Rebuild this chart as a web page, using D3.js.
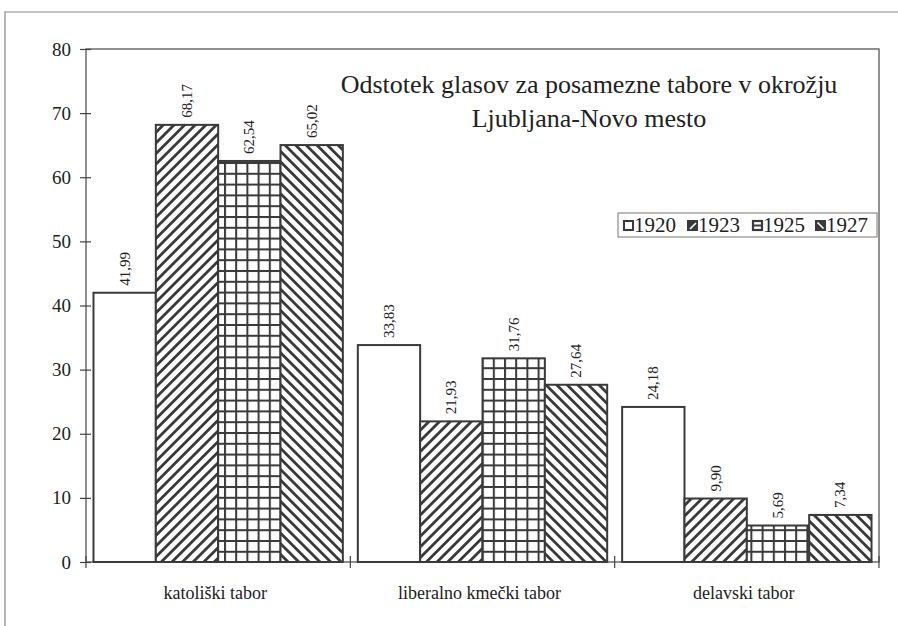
<!DOCTYPE html>
<html><head><meta charset="utf-8">
<script src="https://cdn.jsdelivr.net/npm/d3@7"></script>
<style>body{margin:0;background:#fff}svg{display:block}svg text{font-family:"Liberation Serif","DejaVu Serif",serif}</style>
</head><body>
<svg id="c" width="898" height="626"></svg>
<script>
const categories = ["katoliški tabor", "liberalno kmečki tabor", "delavski tabor"];
const years = ["1920", "1923", "1925", "1927"];
const v1920 = [41.99, 33.83, 24.18];
const v1923 = [68.17, 21.93, 9.90];
const v1925 = [62.54, 31.76, 5.69];
const v1927 = [65.02, 27.64, 7.34];
const yTicks = [0, 10, 20, 30, 40, 50, 60, 70, 80];
const titleLines = ["Odstotek glasov za posamezne tabore v okrožju", "Ljubljana-Novo mesto"];

const series = [v1920, v1923, v1925, v1927];
const svg = d3.select("#c");
const ink = "#3a3a3a";

// patterns
const defs = svg.append("defs");
function stripe(id, dir) {
  const p = defs.append("pattern").attr("id", id).attr("patternUnits", "userSpaceOnUse")
    .attr("width", 7.5).attr("height", 7.5)
    .attr("patternTransform", `rotate(${dir})`);
  p.append("rect").attr("width", 7.5).attr("height", 7.5).attr("fill", "#fff");
  p.append("rect").attr("x", 0).attr("y", 0).attr("width", 2.8).attr("height", 7.5).attr("fill", ink);
}
stripe("p1923", 45);
stripe("p1927", -45);
const g = defs.append("pattern").attr("id", "p1925").attr("patternUnits", "userSpaceOnUse")
  .attr("width", 11.2).attr("height", 10.8);
g.append("rect").attr("width", 11.2).attr("height", 10.8).attr("fill", "#fff");
g.append("rect").attr("x", 0).attr("y", 0).attr("width", 2).attr("height", 10.8).attr("fill", ink);
g.append("rect").attr("x", 0).attr("y", 0).attr("width", 11.2).attr("height", 2).attr("fill", ink);
const fills = ["#fff", "url(#p1923)", "url(#p1925)", "url(#p1927)"];

// outer frame
svg.append("path").attr("d", "M5,626 L5,12 L898,12").attr("fill", "none").attr("stroke", "#8a8a8a").attr("stroke-width", 1.2);

const L = 86, R = 879, T = 49, B = 562;
const y = d3.scaleLinear().domain([0, 80]).range([B, T]);
const x0 = d3.scaleBand().domain(categories).range([L, R]).padding(0);
const x1 = d3.scaleBand().domain(years).range([0, x0.bandwidth()]).paddingInner(0).paddingOuter(0.12);

// plot frame
svg.append("rect").attr("x", L).attr("y", T).attr("width", R - L).attr("height", B - T)
  .attr("fill", "none").attr("stroke", "#555").attr("stroke-width", 1.3);

// y axis
const ya = svg.append("g").attr("transform", `translate(${L},0)`)
  .call(d3.axisLeft(y).tickValues(yTicks).tickSize(6).tickPadding(8).tickFormat(d3.format("d")));
ya.select(".domain").remove();
ya.attr("font-family", null).attr("font-size", null);
ya.selectAll(".tick line").attr("x2", -6).attr("x1", 5).attr("stroke", "#444").attr("stroke-width", 1.2);
ya.selectAll(".tick text").attr("font-size", 19).attr("fill", "#222").attr("x", -15);

// bars
categories.forEach((c, ci) => {
  years.forEach((yr, si) => {
    const val = series[si][ci];
    const bx = x0(c) + x1(yr);
    svg.append("rect").attr("x", bx).attr("y", y(val)).attr("width", x1.bandwidth()).attr("height", B - y(val))
      .attr("fill", fills[si]).attr("stroke", ink).attr("stroke-width", 2);
    const cx = bx + x1.bandwidth() / 2;
    svg.append("text").attr("transform", `translate(${cx + 5},${y(val) - 7}) rotate(-90)`)
      .attr("font-size", 15).attr("fill", "#222")
      .text(d3.format(".2f")(val).replace(".", ","));
  });
});

// x axis ticks & labels
const xa = svg.append("g").attr("transform", `translate(0,${B})`);
const bounds = categories.map(c => x0(c)).concat([R]);
bounds.forEach(b => xa.append("line").attr("x1", b).attr("x2", b).attr("y1", -6).attr("y2", 6).attr("stroke", "#444").attr("stroke-width", 1.2));
categories.forEach(c => xa.append("text").attr("x", x0(c) + x0.bandwidth() / 2 - 3).attr("y", 37)
  .attr("text-anchor", "middle").attr("font-size", 18).attr("fill", "#222").text(c));

// title
svg.append("text").attr("x", 589).attr("y", 93).attr("text-anchor", "middle")
  .attr("font-size", 26).attr("fill", "#222").selectAll("tspan").data(titleLines).join("tspan")
  .attr("x", 589).attr("dy", (d, i) => i ? 34 : 0).text(d => d);

// legend
const lg = svg.append("g").attr("transform", "translate(618,213)");
lg.append("rect").attr("width", 259).attr("height", 24).attr("fill", "#fff").attr("stroke", "#777").attr("stroke-width", 1);
const lx = [5, 69, 134, 197];
years.forEach((yr, i) => {
  const s = lg.append("g").attr("transform", `translate(${lx[i]},7)`);
  if (i === 0) {
    s.append("rect").attr("x", 1).attr("y", 1).attr("width", 9).attr("height", 9).attr("fill", "#fff").attr("stroke", ink).attr("stroke-width", 2);
  } else if (i === 2) {
    s.append("rect").attr("x", 1).attr("y", 1).attr("width", 9).attr("height", 9).attr("fill", "#fff").attr("stroke", ink).attr("stroke-width", 2.2);
    s.append("line").attr("x1", 1).attr("x2", 10).attr("y1", 5.5).attr("y2", 5.5).attr("stroke", ink).attr("stroke-width", 2);
  } else {
    s.append("rect").attr("x", 0).attr("y", 0).attr("width", 11).attr("height", 11).attr("fill", ink);
    if (i === 1) s.append("line").attr("x1", 3).attr("y1", 9).attr("x2", 9).attr("y2", 3).attr("stroke", "#fff").attr("stroke-width", 1.6);
    else s.append("line").attr("x1", 2.5).attr("y1", 2.5).attr("x2", 8.5).attr("y2", 8.5).attr("stroke", "#fff").attr("stroke-width", 1.6);
  }
  lg.append("text").attr("x", lx[i] + 11).attr("y", 19).attr("font-size", 21).attr("fill", "#222").text(yr);
});
</script>
</body></html>
